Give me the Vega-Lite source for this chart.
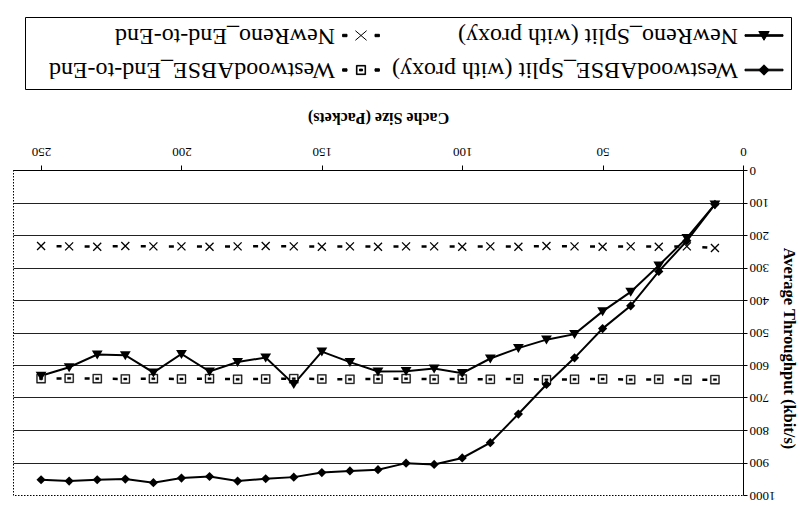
{
  "$schema": "https://vega.github.io/schema/vega-lite/v6.json",
  "width": 730,
  "height": 325,
  "autosize": "none",
  "padding": {"left": 13, "top": 170, "right": 59, "bottom": 11},
  "background": "white",
  "config": {
    "font": "Liberation Serif",
    "view": {"stroke": "black", "strokeDash": [1.5, 1.5], "strokeWidth": 1},
    "axis": {"labelFont": "Liberation Serif", "titleFont": "Liberation Serif", "labelColor": "black", "titleColor": "black", "domainColor": "black", "tickColor": "black", "domainWidth": 1, "tickWidth": 1}
  },
  "data": {
    "values": [
      {"s": "NewReno_End-to-End", "x": 10, "y": 240}, {"s": "NewReno_End-to-End", "x": 20, "y": 235}, {"s": "NewReno_End-to-End", "x": 30, "y": 236}, {"s": "NewReno_End-to-End", "x": 40, "y": 235}, {"s": "NewReno_End-to-End", "x": 50, "y": 236},
      {"s": "NewReno_End-to-End", "x": 60, "y": 235}, {"s": "NewReno_End-to-End", "x": 70, "y": 234}, {"s": "NewReno_End-to-End", "x": 80, "y": 236}, {"s": "NewReno_End-to-End", "x": 90, "y": 235}, {"s": "NewReno_End-to-End", "x": 100, "y": 236},
      {"s": "NewReno_End-to-End", "x": 110, "y": 235}, {"s": "NewReno_End-to-End", "x": 120, "y": 235}, {"s": "NewReno_End-to-End", "x": 130, "y": 236}, {"s": "NewReno_End-to-End", "x": 140, "y": 235}, {"s": "NewReno_End-to-End", "x": 150, "y": 236},
      {"s": "NewReno_End-to-End", "x": 160, "y": 235}, {"s": "NewReno_End-to-End", "x": 170, "y": 234}, {"s": "NewReno_End-to-End", "x": 180, "y": 235}, {"s": "NewReno_End-to-End", "x": 190, "y": 236}, {"s": "NewReno_End-to-End", "x": 200, "y": 235},
      {"s": "NewReno_End-to-End", "x": 210, "y": 235}, {"s": "NewReno_End-to-End", "x": 220, "y": 234}, {"s": "NewReno_End-to-End", "x": 230, "y": 236}, {"s": "NewReno_End-to-End", "x": 240, "y": 235}, {"s": "NewReno_End-to-End", "x": 250, "y": 234},
      {"s": "WestwoodABSE_End-to-End", "x": 10, "y": 645}, {"s": "WestwoodABSE_End-to-End", "x": 20, "y": 645}, {"s": "WestwoodABSE_End-to-End", "x": 30, "y": 644}, {"s": "WestwoodABSE_End-to-End", "x": 40, "y": 645}, {"s": "WestwoodABSE_End-to-End", "x": 50, "y": 643},
      {"s": "WestwoodABSE_End-to-End", "x": 60, "y": 644}, {"s": "WestwoodABSE_End-to-End", "x": 70, "y": 645}, {"s": "WestwoodABSE_End-to-End", "x": 80, "y": 643}, {"s": "WestwoodABSE_End-to-End", "x": 90, "y": 644}, {"s": "WestwoodABSE_End-to-End", "x": 100, "y": 643},
      {"s": "WestwoodABSE_End-to-End", "x": 110, "y": 644}, {"s": "WestwoodABSE_End-to-End", "x": 120, "y": 642}, {"s": "WestwoodABSE_End-to-End", "x": 130, "y": 643}, {"s": "WestwoodABSE_End-to-End", "x": 140, "y": 644}, {"s": "WestwoodABSE_End-to-End", "x": 150, "y": 643},
      {"s": "WestwoodABSE_End-to-End", "x": 160, "y": 642}, {"s": "WestwoodABSE_End-to-End", "x": 170, "y": 643}, {"s": "WestwoodABSE_End-to-End", "x": 180, "y": 644}, {"s": "WestwoodABSE_End-to-End", "x": 190, "y": 642}, {"s": "WestwoodABSE_End-to-End", "x": 200, "y": 643},
      {"s": "WestwoodABSE_End-to-End", "x": 210, "y": 642}, {"s": "WestwoodABSE_End-to-End", "x": 220, "y": 643}, {"s": "WestwoodABSE_End-to-End", "x": 230, "y": 642}, {"s": "WestwoodABSE_End-to-End", "x": 240, "y": 641}, {"s": "WestwoodABSE_End-to-End", "x": 250, "y": 642},
      {"s": "NewReno_Split (with proxy)", "x": 10, "y": 106}, {"s": "NewReno_Split (with proxy)", "x": 20, "y": 209}, {"s": "NewReno_Split (with proxy)", "x": 30, "y": 294}, {"s": "NewReno_Split (with proxy)", "x": 40, "y": 375}, {"s": "NewReno_Split (with proxy)", "x": 50, "y": 435},
      {"s": "NewReno_Split (with proxy)", "x": 60, "y": 505}, {"s": "NewReno_Split (with proxy)", "x": 70, "y": 522}, {"s": "NewReno_Split (with proxy)", "x": 80, "y": 548}, {"s": "NewReno_Split (with proxy)", "x": 90, "y": 580}, {"s": "NewReno_Split (with proxy)", "x": 100, "y": 625},
      {"s": "NewReno_Split (with proxy)", "x": 110, "y": 611}, {"s": "NewReno_Split (with proxy)", "x": 120, "y": 619}, {"s": "NewReno_Split (with proxy)", "x": 130, "y": 620}, {"s": "NewReno_Split (with proxy)", "x": 140, "y": 591}, {"s": "NewReno_Split (with proxy)", "x": 150, "y": 559},
      {"s": "NewReno_Split (with proxy)", "x": 160, "y": 659}, {"s": "NewReno_Split (with proxy)", "x": 170, "y": 577}, {"s": "NewReno_Split (with proxy)", "x": 180, "y": 591}, {"s": "NewReno_Split (with proxy)", "x": 190, "y": 620}, {"s": "NewReno_Split (with proxy)", "x": 200, "y": 566},
      {"s": "NewReno_Split (with proxy)", "x": 210, "y": 623}, {"s": "NewReno_Split (with proxy)", "x": 220, "y": 570}, {"s": "NewReno_Split (with proxy)", "x": 230, "y": 568}, {"s": "NewReno_Split (with proxy)", "x": 240, "y": 607}, {"s": "NewReno_Split (with proxy)", "x": 250, "y": 633},
      {"s": "WestwoodABSE_Split (with proxy)", "x": 10, "y": 106}, {"s": "WestwoodABSE_Split (with proxy)", "x": 20, "y": 218}, {"s": "WestwoodABSE_Split (with proxy)", "x": 30, "y": 312}, {"s": "WestwoodABSE_Split (with proxy)", "x": 40, "y": 418}, {"s": "WestwoodABSE_Split (with proxy)", "x": 50, "y": 488},
      {"s": "WestwoodABSE_Split (with proxy)", "x": 60, "y": 578}, {"s": "WestwoodABSE_Split (with proxy)", "x": 70, "y": 660}, {"s": "WestwoodABSE_Split (with proxy)", "x": 80, "y": 751}, {"s": "WestwoodABSE_Split (with proxy)", "x": 90, "y": 839}, {"s": "WestwoodABSE_Split (with proxy)", "x": 100, "y": 886},
      {"s": "WestwoodABSE_Split (with proxy)", "x": 110, "y": 906}, {"s": "WestwoodABSE_Split (with proxy)", "x": 120, "y": 902}, {"s": "WestwoodABSE_Split (with proxy)", "x": 130, "y": 922}, {"s": "WestwoodABSE_Split (with proxy)", "x": 140, "y": 926}, {"s": "WestwoodABSE_Split (with proxy)", "x": 150, "y": 931},
      {"s": "WestwoodABSE_Split (with proxy)", "x": 160, "y": 945}, {"s": "WestwoodABSE_Split (with proxy)", "x": 170, "y": 950}, {"s": "WestwoodABSE_Split (with proxy)", "x": 180, "y": 957}, {"s": "WestwoodABSE_Split (with proxy)", "x": 190, "y": 943}, {"s": "WestwoodABSE_Split (with proxy)", "x": 200, "y": 948},
      {"s": "WestwoodABSE_Split (with proxy)", "x": 210, "y": 962}, {"s": "WestwoodABSE_Split (with proxy)", "x": 220, "y": 951}, {"s": "WestwoodABSE_Split (with proxy)", "x": 230, "y": 953}, {"s": "WestwoodABSE_Split (with proxy)", "x": 240, "y": 957}, {"s": "WestwoodABSE_Split (with proxy)", "x": 250, "y": 953}
    ]
  },
  "encoding": {
    "x": {
      "field": "x", "type": "quantitative",
      "scale": {"domain": [0, 260], "reverse": true, "nice": false, "zero": false},
      "axis": {
        "orient": "top", "values": [0, 50, 100, 150, 200, 250], "title": "Cache Size (Packets)", "grid": false,
        "labelAngle": 180, "labelAlign": "center", "labelBaseline": "top", "labelFontSize": 13, "labelPadding": 8,
        "tickSize": 5, "labelFlush": false, "labelOverlap": false,
        "titleAngle": 180, "titleBaseline": "top", "titleFontSize": 16, "titleFontWeight": "bold", "titlePadding": 19
      }
    },
    "y": {
      "field": "y", "type": "quantitative",
      "scale": {"domain": [0, 1000], "reverse": true, "nice": false},
      "axis": {
        "orient": "right", "values": [0, 100, 200, 300, 400, 500, 600, 700, 800, 900, 1000], "format": "d",
        "title": "Average Throughput (kbit/s)", "grid": true, "gridColor": "#222222", "gridWidth": 1,
        "gridOpacity": {"condition": {"test": "datum.value === 1000", "value": 0}, "value": 1},
        "labelAngle": 180, "labelAlign": "right", "labelBaseline": "middle", "labelFontSize": 13, "labelPadding": 2,
        "tickSize": 4, "labelFlush": false, "labelOverlap": false,
        "titleAngle": 90, "titleFontSize": 16.5, "titleFontWeight": "bold", "titlePadding": 5, "titleY": 178
      }
    }
  },
  "layer": [
    {
      "transform": [{"filter": "indexof(datum.s, 'Split') >= 0"}],
      "mark": {"type": "line", "color": "black", "strokeWidth": 2},
      "encoding": {"detail": {"field": "s", "type": "nominal"}}
    },
    {
      "transform": [{"filter": "indexof(datum.s, 'End-to-End') >= 0"}],
      "mark": {"type": "line", "color": "black", "strokeWidth": 2.5, "strokeDash": [5, 23.08], "strokeDashOffset": 12.6, "strokeCap": "butt"},
      "encoding": {"detail": {"field": "s", "type": "nominal"}}
    },
    {
      "transform": [{"filter": "datum.s === 'WestwoodABSE_End-to-End'"}],
      "mark": {"type": "point", "shape": "square", "size": 70, "filled": true, "color": "white", "opacity": 1, "strokeWidth": 0}
    },
    {
      "transform": [{"filter": "datum.s === 'WestwoodABSE_End-to-End'"}],
      "mark": {"type": "point", "shape": "M-1,-1H1V1H-1Z M-0.82,-0.82V0.82H0.82V-0.82Z M-0.36,-0.22H0.36V0.22H-0.36Z", "size": 81, "filled": true, "fill": "black", "stroke": "black", "strokeWidth": 0.4, "opacity": 1}
    },
    {
      "transform": [{"filter": "datum.s === 'NewReno_End-to-End'"}],
      "mark": {"type": "point", "shape": "M-1,-1L1,1M-1,1L1,-1", "size": 64, "filled": false, "color": "black", "strokeWidth": 1.3, "opacity": 1}
    },
    {
      "transform": [{"filter": "datum.s === 'WestwoodABSE_Split (with proxy)'"}],
      "mark": {"type": "point", "shape": "M0,-1.15L1.15,0L0,1.15L-1.15,0Z", "size": 64, "filled": true, "color": "black", "opacity": 1}
    },
    {
      "transform": [{"filter": "datum.s === 'NewReno_Split (with proxy)'"}],
      "mark": {"type": "point", "shape": "M-1.2,-0.9H1.2L0,1.1Z", "size": 81, "filled": true, "color": "black", "opacity": 1}
    },
    {
      "mark": {"type": "point", "filled": true, "color": "black", "opacity": 0, "strokeWidth": 1},
      "encoding": {
        "shape": {
          "field": "s", "type": "nominal",
          "scale": {
            "domain": ["NewReno_End-to-End", "NewReno_Split (with proxy)", "WestwoodABSE_End-to-End", "WestwoodABSE_Split (with proxy)"],
            "range": [
              "M-4.6,-0.3H-3.5V0.3H-4.6Z M3.5,-0.3H4.6V0.3H3.5Z M-1.4,-1.2L1.4,1.2M-1.4,1.2L1.4,-1.2",
              "M-4.75,-0.2H4.75V0.2H-4.75Z M-1.3,-1H1.3L0,1.2Z",
              "M-4.6,-0.3H-3.5V0.3H-4.6Z M3.5,-0.3H4.6V0.3H3.5Z M-1.15,-1.15H1.15V1.15H-1.15Z M-1,-1V1H1V-1Z M-0.38,-0.22H0.38V0.22H-0.38Z",
              "M-4.75,-0.2H4.75V0.2H-4.75Z M0,-1.3L1.3,0L0,1.3L-1.3,0Z"
            ]
          },
          "legend": {
            "title": null, "orient": "none", "legendX": 12, "legendY": -153,
            "columns": 2, "direction": "horizontal",
            "symbolSize": 64, "symbolStrokeWidth": 1, "symbolFillColor": "black", "symbolStrokeColor": "black", "symbolOpacity": 1,
            "labelFont": "Liberation Serif", "labelFontSize": 24, "labelColor": "black", "labelLimit": 600,
            "labelAlign": "left", "labelBaseline": "middle",
            "rowPadding": 10, "columnPadding": 6, "padding": 6,
            "strokeColor": "black", "fillColor": "white",
            "encoding": {
              "labels": {"angle": {"value": 180}, "x": {"value": {"expr": "datum.index % 2 ? 350 : 304"}}},
              "symbols": {
                "x": {"value": {"expr": "datum.index % 2 ? 376 : 330"}},
                "stroke": {"value": "black"},
                "strokeWidth": {"value": 1},
                "fill": {"value": "black"},
                "opacity": {"value": 1}
              }
            }
          }
        }
      }
    }
  ]
}
